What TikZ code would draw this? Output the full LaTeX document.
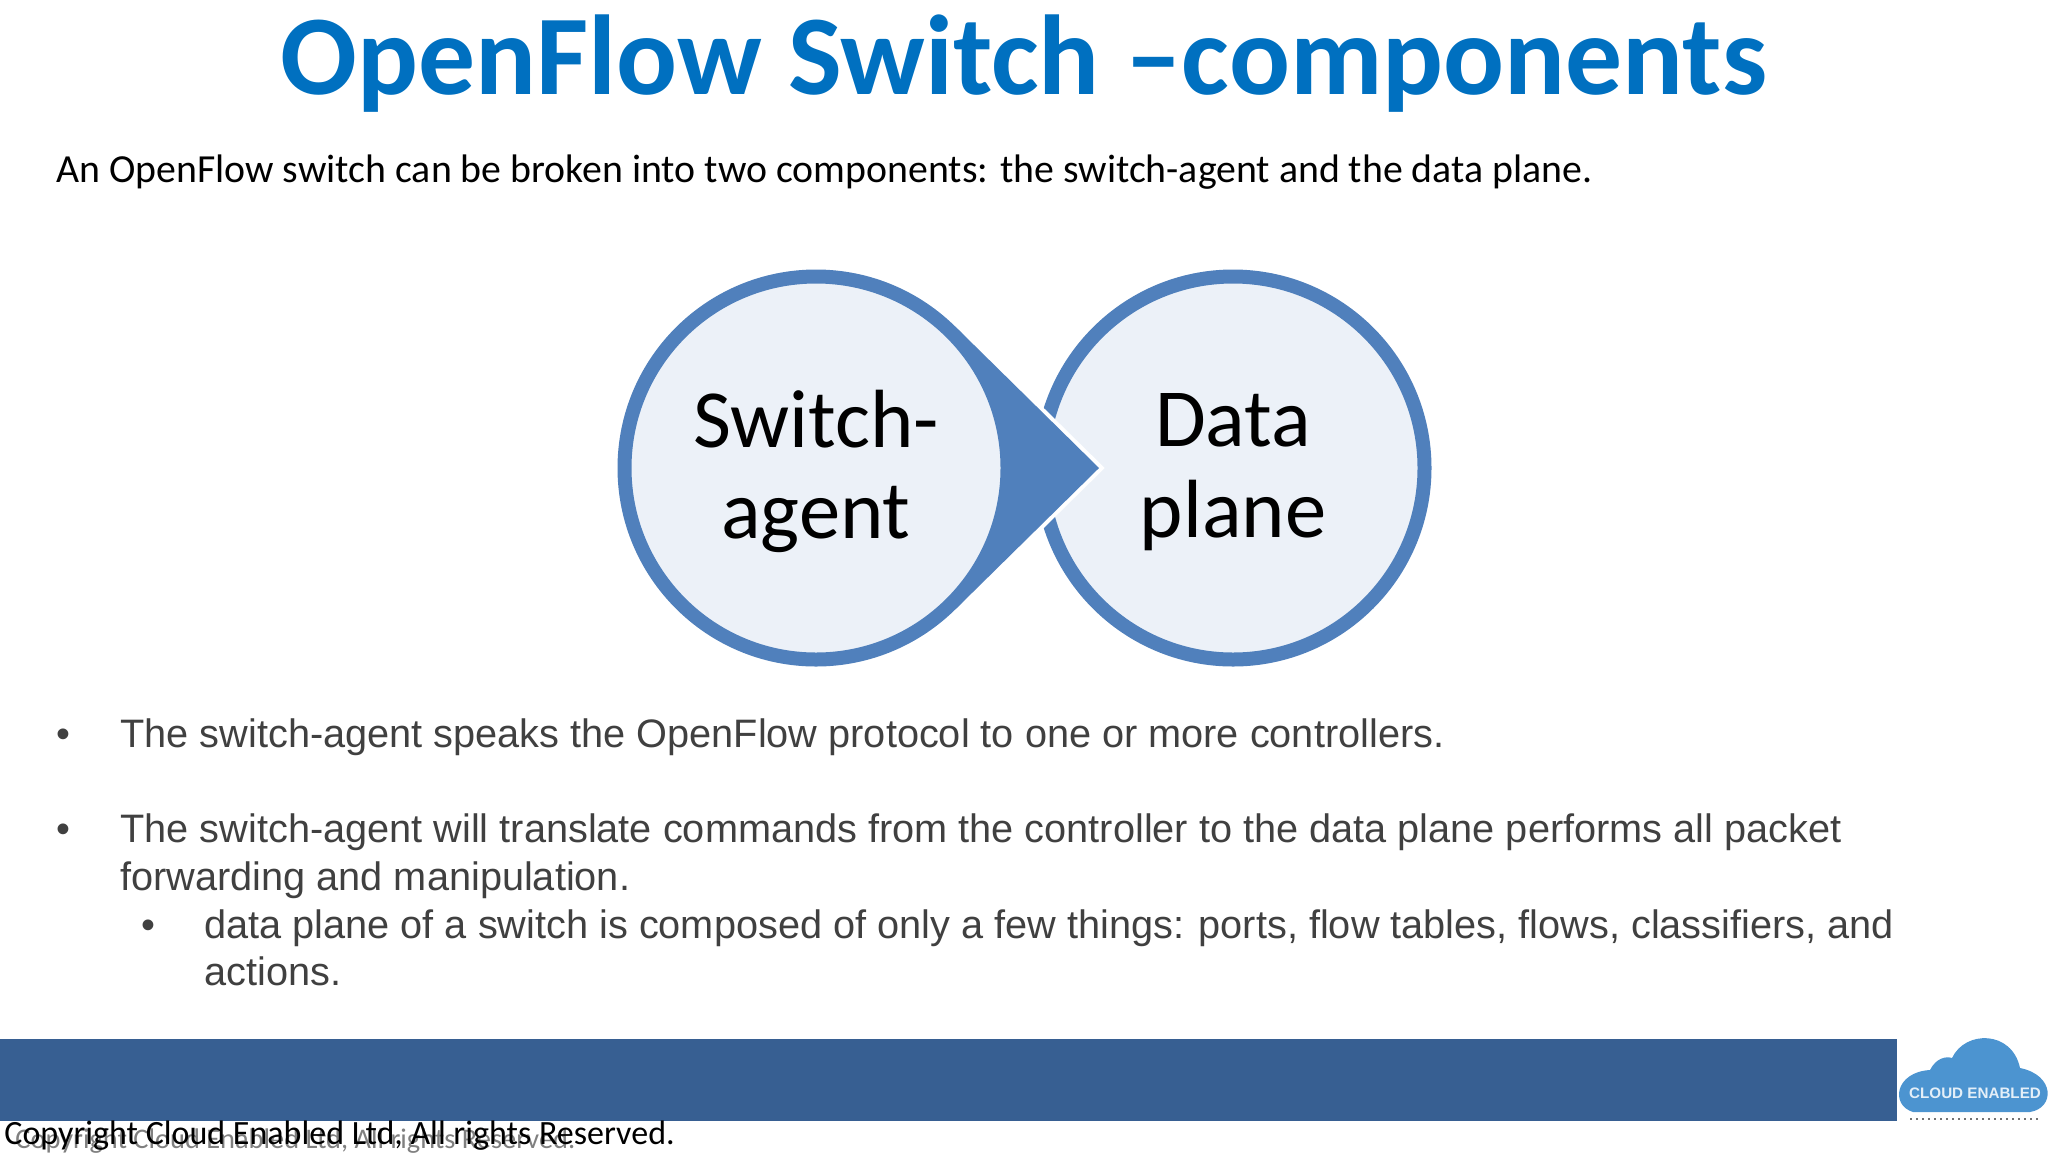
\documentclass[tikz,border=0pt]{standalone}
\usetikzlibrary{calc}
\usepackage{fontspec}
\setmainfont{Carlito}
\newfontfamily\bulletfont{Liberation Sans}
\definecolor{titleblue}{HTML}{0070C0}
\definecolor{ringblue}{HTML}{5080BC}
\definecolor{ringfill}{HTML}{ECF1F8}
\definecolor{barblue}{HTML}{375F92}
\definecolor{cloudblue}{HTML}{4C94D0}
\definecolor{bodygray}{HTML}{404040}
\begin{document}
\begin{tikzpicture}
  [x=.5pt,y=-.5pt,
   every node/.style={inner sep=0pt},
   heading/.style={anchor=base,font=\bfseries\fontsize{56.8}{60}\selectfont,text=titleblue},
   intro/.style={anchor=base west,font=\fontsize{19.9}{24}\selectfont},
   point/.style={anchor=base west,text=bodygray,font=\bulletfont\fontsize{19.85}{24}\selectfont},
   ring/.style={circle,draw=ringblue,fill=ringfill,line width=7pt,minimum size=191.5pt},
   ringtext/.style={align=center,font=\fontsize{41.3}{45.5}\selectfont},
   copyline/.style={anchor=base west,font=\fontsize{17}{20}\selectfont}]
  \useasboundingbox (0,0) rectangle (2048,1152);

  \node[heading] (title) at (1024,94) {OpenFlow Switch –components};
  \node[intro] (lead) at (56,182) {An OpenFlow switch can be broken into two components: the switch-agent and the data plane.};

  % the two circles, the arrow lies between them
  \node[ring] (data) at (1233,468) {};
  \coordinate (tip) at (1099,468);
  \node[circle,minimum size=191.5pt,line width=7pt] (switchout) at (816,468) {};
  \fill[ringblue,preaction={draw=white,line width=4pt,miter limit=10}]
    (tip) -- (tangent cs:node=switchout,point={(tip)},solution=1)
    -- (switchout.center) -- (tangent cs:node=switchout,point={(tip)},solution=2) -- cycle;
  \node[ring] (switch) at (816,468) {};
  \node[ringtext] (datatext) at (1233,472) {Data\\plane};
  \node[ringtext] (switchtext) at (816,471) {Switch-\\agent};

  % bullets
  \foreach \name/\xpos/\ypos in {ba/56.5/747,bb/56.5/842,bc/141.5/938}
    \node[point] (\name) at (\xpos,\ypos) {•};
  \node[point] (la) at (120,747) {The switch-agent speaks the OpenFlow protocol to one or more controllers.};
  \node[point] (lb) at (120,842) {The switch-agent will translate commands from the controller to the data plane performs all packet};
  \node[point] (lc) at (120,890) {forwarding and manipulation.};
  \node[point] (ld) at (204,938) {data plane of a switch is composed of only a few things: ports, flow tables, flows, classifiers, and};
  \node[point] (le) at (204,985) {actions.};

  % footer
  \fill[barblue] (0,1039) rectangle (1897,1121);
  \node[copyline,text=black!50,font=\fontsize{14.2}{18}\selectfont] (copyb) at (15,1148) {Copyright Cloud Enabled Ltd, All rights Reserved.};
  \node[copyline] (copya) at (4,1144) {Copyright Cloud Enabled Ltd, All rights Reserved.};

  % logo
  \fill[cloudblue] (1913,1112) .. controls (1890,1105) and (1895,1072) .. (1930,1070)
    .. controls (1936,1058) and (1946,1056) .. (1952,1058)
    .. controls (1965,1030) and (2012,1030) .. (2020,1068)
    .. controls (2055,1075) and (2055,1108) .. (2030,1112) -- cycle;
  \node[text=white!85!cloudblue,font=\bfseries\bulletfont\fontsize{7.6}{10}\selectfont] (logo) at (1975,1093) {CLOUD ENABLED};
  \coordinate (rulea) at (1910,1119);
  \coordinate (ruleb) at (2040,1119);
  \draw[black!55,line width=1pt,dotted] (rulea) -- (ruleb);
\end{tikzpicture}
\end{document}
